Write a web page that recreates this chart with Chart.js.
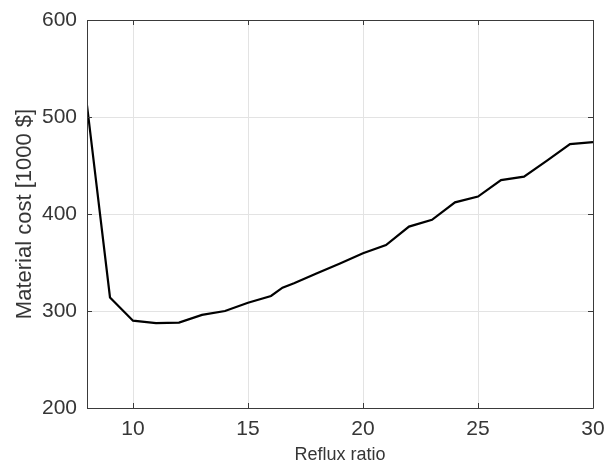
<!DOCTYPE html>
<html lang="en">
<head>
    <meta charset="UTF-8">
    <title>Material cost vs reflux ratio</title>
    <style>
        html, body {
            margin: 0;
            padding: 0;
            background-color: #fff;
        }

        #wrap {
            width: 606px;
            height: 472px;
        }
    </style>
</head>
<body>
    <div id="wrap">
        <canvas id="graph" width="606" height="472"></canvas>
    </div>

    <script src="https://cdn.jsdelivr.net/npm/chart.js"></script>
    <script>
        const refluxRatio = [8, 9, 10, 11, 12, 13, 14, 15, 16, 16.5, 17, 18, 19, 20, 21, 22, 23, 24, 25, 26, 27, 28, 29, 30];
        const materialCost = [512, 314, 290, 287.5, 288, 296, 300, 308.5, 315.5, 324, 328.5, 339, 349, 359.5, 368, 387, 394, 412, 418, 435, 438.5, 455, 472, 474];
        const xTicks = [10, 15, 20, 25, 30];
        const yTicks = [200, 300, 400, 500, 600];

        const textColor = '#363636';
        const fontFamily = "'Liberation Sans', Arial, sans-serif";

        // matlab style box with inward tick marks on all four sides
        const boxPlugin = {
            id: 'box',
            afterDraw(chart) {
                const ctx = chart.ctx;
                const area = chart.chartArea;
                const xs = chart.scales.x;
                const ys = chart.scales.y;
                const len = 5;
                ctx.save();
                ctx.strokeStyle = '#3a3a3a';
                ctx.lineWidth = 1;
                ctx.beginPath();
                ctx.rect(Math.round(area.left) + 0.5, Math.round(area.top) + 0.5,
                    Math.round(area.right - area.left), Math.round(area.bottom - area.top));
                xTicks.forEach(function(v) {
                    const px = Math.round(xs.getPixelForValue(v)) + 0.5;
                    ctx.moveTo(px, area.bottom);
                    ctx.lineTo(px, area.bottom - len);
                    ctx.moveTo(px, area.top);
                    ctx.lineTo(px, area.top + len);
                });
                yTicks.forEach(function(v) {
                    const py = Math.round(ys.getPixelForValue(v)) + 0.5;
                    ctx.moveTo(area.left, py);
                    ctx.lineTo(area.left + len, py);
                    ctx.moveTo(area.right, py);
                    ctx.lineTo(area.right - len, py);
                });
                ctx.stroke();
                ctx.restore();
            }
        };

        const points = refluxRatio.map(function(x, i) {
            return { x: x, y: materialCost[i] };
        });

        new Chart(document.getElementById('graph').getContext('2d'), {
            type: 'line',
            data: {
                datasets: [{
                    data: points,
                    borderColor: '#000000',
                    borderWidth: 2.2,
                    pointRadius: 0,
                    tension: 0,
                    fill: false
                }]
            },
            options: {
                responsive: false,
                animation: false,
                layout: {
                    padding: { left: 0, right: 13, top: 20, bottom: 0 }
                },
                plugins: {
                    legend: { display: false },
                    tooltip: { enabled: false }
                },
                scales: {
                    x: {
                        type: 'linear',
                        min: 8,
                        max: 30,
                        afterBuildTicks: function(scale) {
                            scale.ticks = xTicks.map(function(v) { return { value: v }; });
                        },
                        afterFit: function(scale) {
                            scale.height = 64;
                            scale.paddingLeft = 0;
                            scale.paddingRight = 0;
                        },
                        border: { display: false },
                        grid: {
                            color: '#e3e3e3',
                            lineWidth: 1,
                            drawTicks: false
                        },
                        ticks: {
                            color: textColor,
                            padding: 9,
                            maxRotation: 0,
                            font: { family: fontFamily, size: 21 }
                        },
                        title: {
                            display: true,
                            text: 'Reflux ratio',
                            color: textColor,
                            padding: { top: 0, bottom: 6 },
                            font: { family: fontFamily, size: 18 }
                        }
                    },
                    y: {
                        type: 'linear',
                        min: 200,
                        max: 600,
                        afterBuildTicks: function(scale) {
                            scale.ticks = yTicks.map(function(v) { return { value: v }; });
                        },
                        afterFit: function(scale) {
                            scale.width = 87;
                            scale.paddingTop = 0;
                            scale.paddingBottom = 0;
                        },
                        border: { display: false },
                        grid: {
                            color: '#e3e3e3',
                            lineWidth: 1,
                            drawTicks: false
                        },
                        ticks: {
                            color: textColor,
                            padding: 10,
                            font: { family: fontFamily, size: 21 }
                        },
                        title: {
                            display: true,
                            text: 'Material cost [1000 $]',
                            color: textColor,
                            padding: { top: 12, bottom: 0 },
                            font: { family: fontFamily, size: 22 }
                        }
                    }
                }
            },
            plugins: [boxPlugin]
        });
    </script>
</body>
</html>
